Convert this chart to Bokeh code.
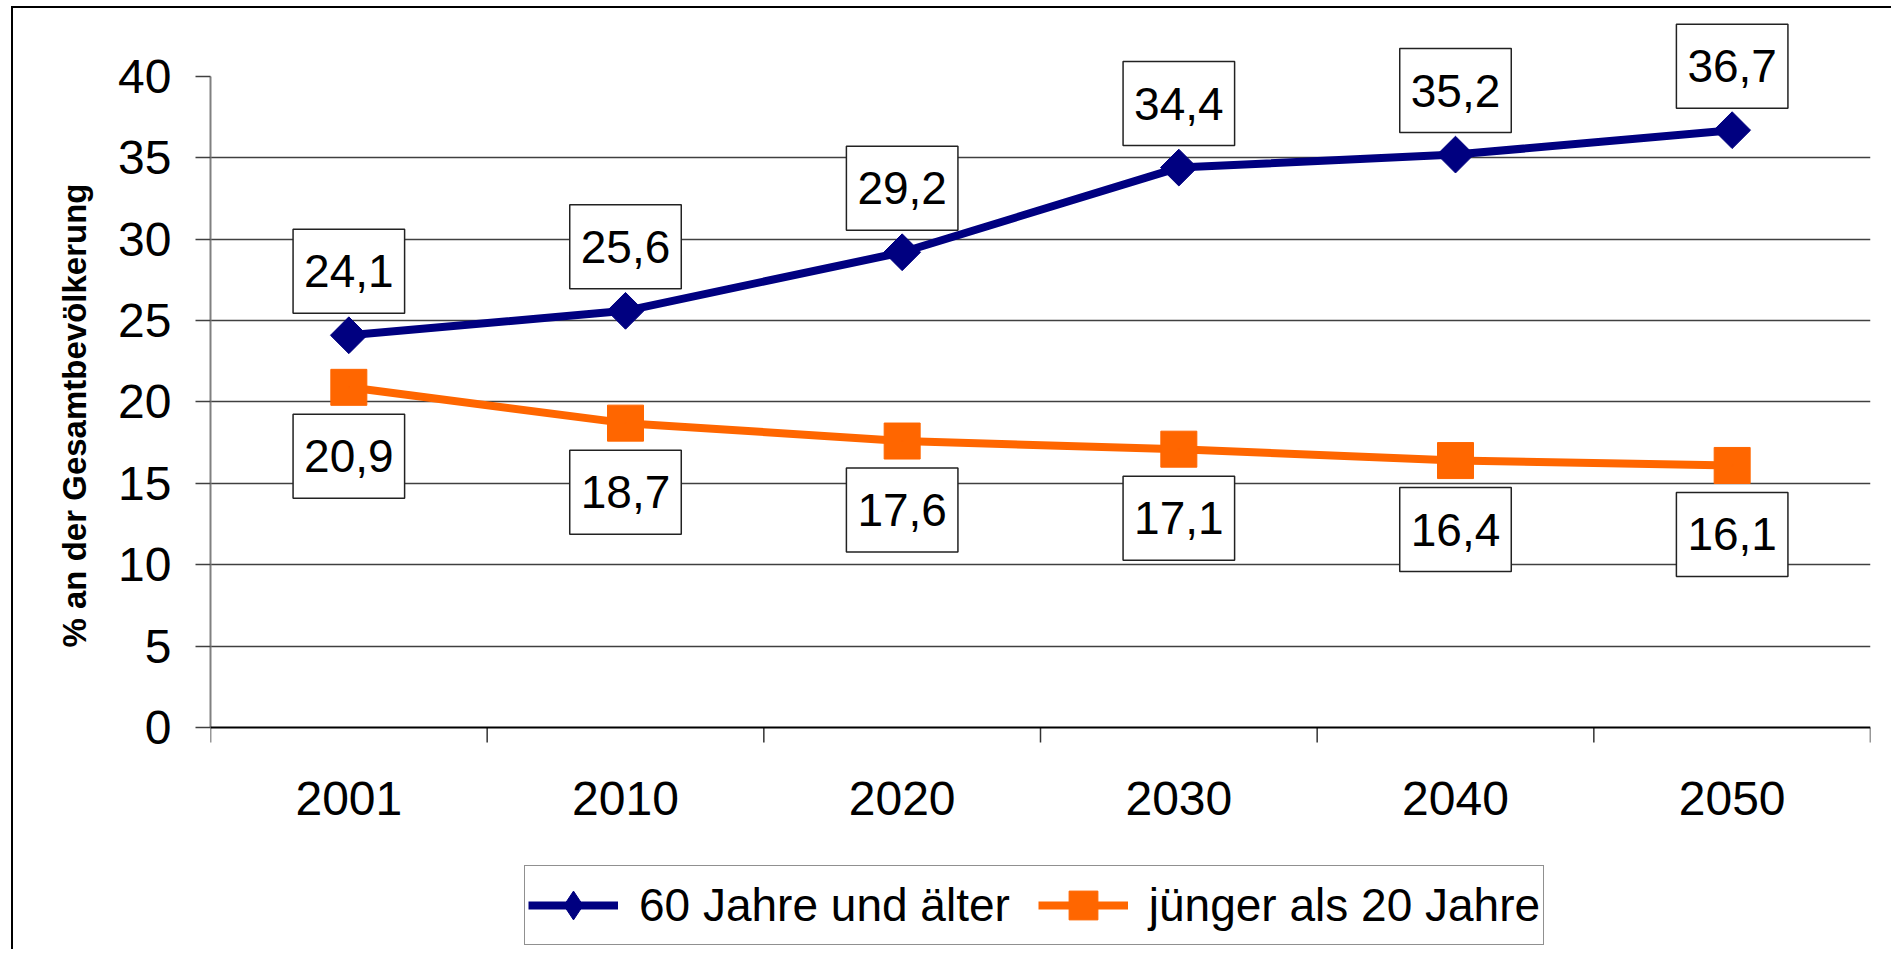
import math
from bokeh.plotting import figure
from bokeh.models import Range1d, FixedTicker, Legend, LegendItem, Span, Title
from bokeh.core.properties import value
from bokeh.embed import file_html
from bokeh.resources import INLINE

# ---- data ----
years = ["2001", "2010", "2020", "2030", "2040", "2050"]
older = [24.1, 25.6, 29.2, 34.4, 35.2, 36.7]      # 60 Jahre und älter
younger = [20.9, 18.7, 17.6, 17.1, 16.4, 16.1]    # jünger als 20 Jahre
y_ticks = [0, 5, 10, 15, 20, 25, 30, 35, 40]
series_names = ["60 Jahre und älter", "jünger als 20 Jahre"]
y_title = "% an der Gesamtbevölkerung"

FONT = "Liberation Sans"
BLUE = "#000080"
ORANGE = "#FF6600"

x_pos = [i + 0.5 for i in range(len(years))]
bounds = list(range(len(years) + 1))
fmt = lambda v: f"{v:.1f}".replace(".", ",")

p = figure(width=1880, height=943, output_backend="svg", toolbar_location=None,
           x_range=Range1d(0, len(years)), y_range=Range1d(-13.64, 43.5),
           x_axis_location=None,
           min_border_left=197, min_border_right=23, min_border_top=11,
           min_border_bottom=2)
p.styles = {"margin-left": "11px", "margin-top": "6px",
            "border-left": "2px solid #000", "border-top": "2px solid #000"}
p.outline_line_color = None
p.background_fill_color = "white"
p.border_fill_color = "white"

# y axis
ya = p.yaxis[0]
ya.ticker = FixedTicker(ticks=y_ticks)
ya.bounds = (y_ticks[0], y_ticks[-1])
ya.major_tick_out = 15
ya.major_tick_in = 0
ya.major_tick_line_color = "#404040"
ya.major_tick_line_width = 1.5
ya.minor_tick_line_color = None
ya.axis_line_color = "#808080"
ya.axis_line_width = 2
ya.major_label_text_font = FONT
ya.major_label_text_font_size = "48px"
ya.major_label_text_color = "#000000"
ya.major_label_standoff = 24

# y title (left side, positioned along the 0..40 axis)
p.add_layout(Title(text=y_title, align="left", offset=302, standoff=46,
                   text_font=FONT, text_font_size="33px", text_font_style="bold",
                   text_color="#000000"), "left")

p.xgrid.visible = False
p.ygrid.ticker = FixedTicker(ticks=y_ticks[1:-1])
p.ygrid.grid_line_color = "#404040"
p.ygrid.grid_line_width = 1.5

# category axis (line at y=0, boundary ticks, year labels)
p.add_layout(Span(location=y_ticks[0], dimension="width", line_color="#000000", line_width=2))
p.ray(x=bounds, y=[y_ticks[0]] * len(bounds), length=15, length_units="screen",
      angle=-math.pi / 2, line_color="#333333", line_width=1.5)
p.text(x=x_pos, y=[y_ticks[0]] * len(years), text=years, y_offset=71,
       text_align="center", text_baseline="middle", text_font=value(FONT),
       text_font_size="48px", text_color="#000000")

# series
l1 = p.line(x_pos, older, line_color=BLUE, line_width=8)
p.scatter(x_pos, older, marker="square", size=26, angle=math.pi / 4,
          fill_color=BLUE, line_color=BLUE)
l2 = p.line(x_pos, younger, line_color=ORANGE, line_width=8)
p.scatter(x_pos, younger, marker="square", size=36,
          fill_color=ORANGE, line_color=ORANGE)

# legend-only marker renderers (hidden under the real markers)
leg_d = p.scatter(x_pos, older, marker="diamond", size=1, fill_color=BLUE, line_color=BLUE)
leg_s = p.scatter(x_pos, younger, marker="square", size=1, fill_color=ORANGE, line_color=ORANGE)

# data labels
common = dict(text_align="center", text_baseline="middle", text_font=value(FONT),
              text_font_size="46px", text_color="#000000",
              background_fill_color="white", border_line_color="#222222",
              border_line_width=1.5, padding=(11, 26))
p.text(x=x_pos, y=older, text=[fmt(v) for v in older], y_offset=-64, **common)
p.text(x=x_pos, y=younger, text=[fmt(v) for v in younger], y_offset=69, **common)

legend = Legend(items=[LegendItem(label=series_names[0], renderers=[l1, leg_d]),
                       LegendItem(label=series_names[1], renderers=[l2, leg_s])],
                orientation="horizontal", location=(314, 4),
                label_text_font=FONT, label_text_font_size="46px",
                label_text_color="#000000",
                glyph_width=90, glyph_height=72, padding=3, spacing=28,
                label_standoff=21, margin=0,
                border_line_color="#222222", border_line_width=1.5,
                background_fill_color="white", background_fill_alpha=1.0)
p.add_layout(legend)

open("out.html", "w").write(file_html(p, INLINE))
